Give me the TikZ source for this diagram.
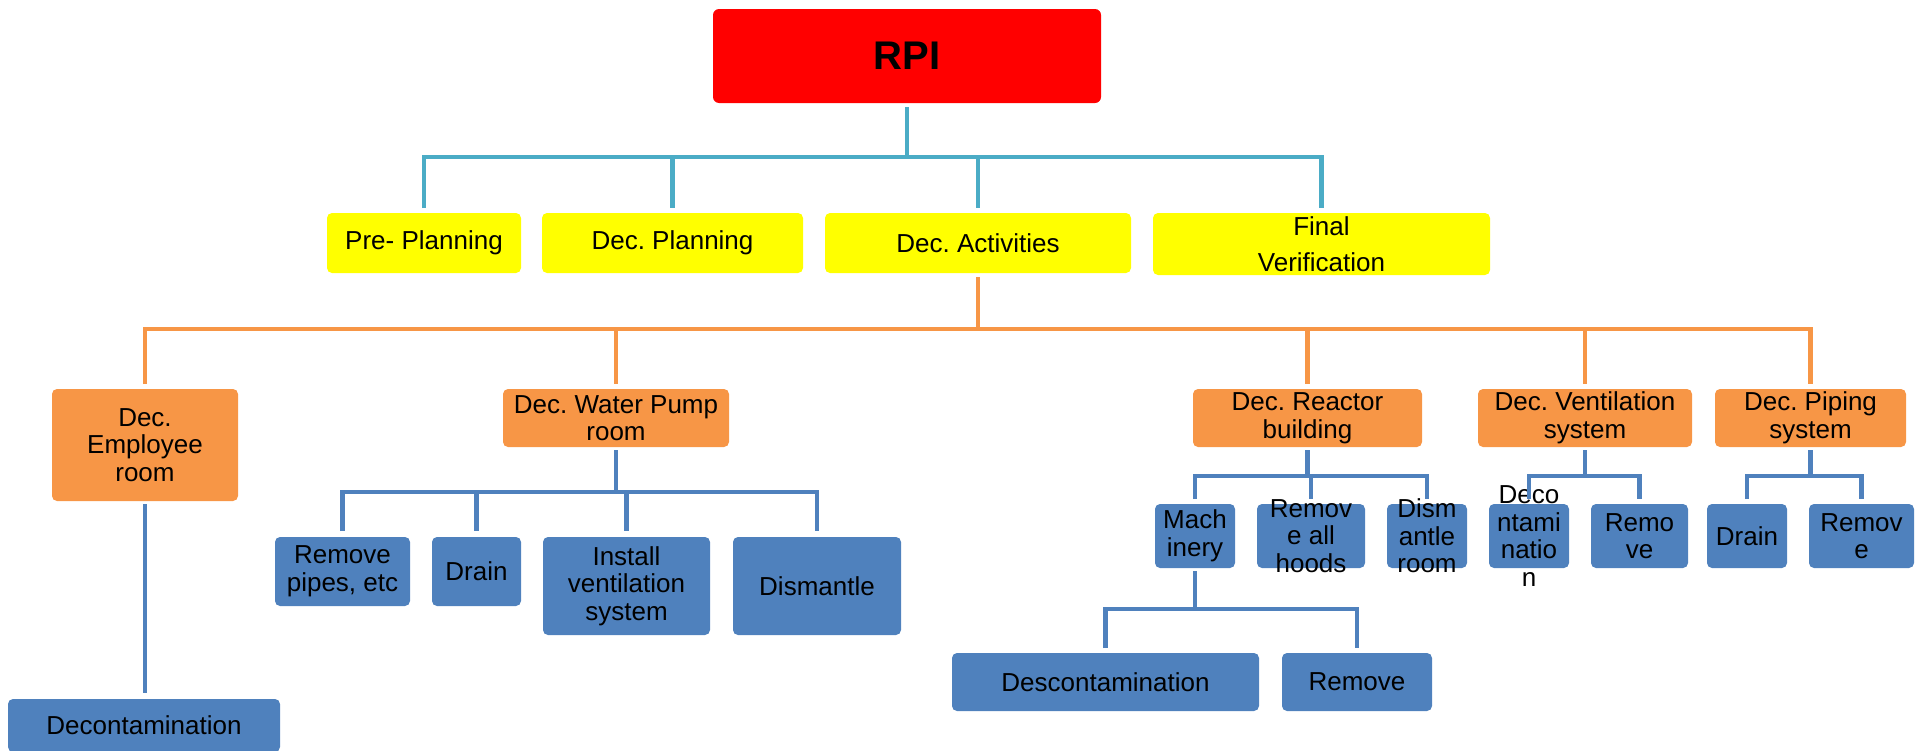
\documentclass[tikz,border=0pt]{standalone}
\usepackage{fontspec}
\setmainfont{Liberation Sans}
\usetikzlibrary{fit}
\definecolor{redc}{HTML}{FF0000}
\definecolor{yelc}{HTML}{FFFF00}
\definecolor{orgc}{HTML}{F79646}
\definecolor{bluc}{HTML}{4F81BD}
\definecolor{tealc}{HTML}{4BACC6}
\frenchspacing
\begin{document}
\begin{tikzpicture}[x=0.5pt,y=-0.5pt,
  bx/.style={rounded corners=2.5pt, inner sep=0pt, outer sep=0pt, fill=#1, draw=none},
  tx/.style={font=\fontsize{13}{13.8}\selectfont, align=center, inner sep=0pt, text=black},
  tl/.style={draw=tealc, line width=2.1pt},
  ol/.style={draw=orgc, line width=2.1pt},
  bl/.style={draw=bluc, line width=2.3pt}]
\useasboundingbox (0,0) rectangle (1923,750);
% boxes
\node[bx=redc, rounded corners=3pt, fit={(713,9) (1101,103)}] (rpi) {};
\node[bx=yelc, fit={(327,213) (521,273)}] (pre) {};
\node[bx=yelc, fit={(542,213) (803,273)}] (decp) {};
\node[bx=yelc, fit={(825,213) (1131,273)}] (deca) {};
\node[bx=yelc, fit={(1153,213) (1490,275)}] (fin) {};
\node[bx=orgc, fit={(52,389) (238,501)}] (emp) {};
\node[bx=orgc, fit={(503,389) (729,447)}] (wp) {};
\node[bx=orgc, fit={(1193,389) (1422,447)}] (rb) {};
\node[bx=orgc, fit={(1478,389) (1692,447)}] (vs) {};
\node[bx=orgc, fit={(1715,389) (1906,447)}] (ps) {};
\node[bx=bluc, fit={(275,537) (410,606)}] (rp) {};
\node[bx=bluc, fit={(432,537) (521,606)}] (dr1) {};
\node[bx=bluc, fit={(543,537) (710,635)}] (iv) {};
\node[bx=bluc, fit={(733,537) (901,635)}] (dm) {};
\node[bx=bluc, fit={(8,699) (280,752)}] (dec1) {};
\node[bx=bluc, fit={(1155,504) (1235,568)}] (mach) {};
\node[bx=bluc, fit={(1257,504) (1365,568)}] (rah) {};
\node[bx=bluc, fit={(1387,504) (1467,568)}] (drm) {};
\node[bx=bluc, fit={(1489,504) (1569,568)}] (dv) {};
\node[bx=bluc, fit={(1591,504) (1688,568)}] (rv) {};
\node[bx=bluc, fit={(1707,504) (1787,568)}] (dp) {};
\node[bx=bluc, fit={(1809,504) (1914,568)}] (rp2) {};
\node[bx=bluc, fit={(952,653) (1259,711)}] (desc) {};
\node[bx=bluc, fit={(1282,653) (1432,711)}] (rm) {};
% texts
\node[tx, font=\bfseries\fontsize{20}{24}\selectfont] (rpi-t) at (rpi) {RPI};
\node[tx] (pre-t) at (pre) {Pre- Planning};
\node[tx] (decp-t) at (decp) {Dec. Planning};
\node[tx] (deca-t) at (deca) {Dec. Activities};
\node[tx, font=\fontsize{13}{18}\selectfont] (fin-t) at (fin) {Final\\Verification};
\node[tx] (emp-t) at (emp) {Dec.\\Employee\\room};
\node[tx] (wp-t) at (wp) {Dec. Water Pump\\room};
\node[tx] (rb-t) at (rb) {Dec. Reactor\\building};
\node[tx] (vs-t) at (vs) {Dec. Ventilation\\system};
\node[tx] (ps-t) at (ps) {Dec. Piping\\system};
\node[tx] (rp-t) at (rp) {Remove\\pipes, etc};
\node[tx] (dr1-t) at (dr1) {Drain};
\node[tx] (iv-t) at (iv) {Install\\ventilation\\system};
\node[tx] (dm-t) at (dm) {Dismantle};
\node[tx] (dec1-t) at (dec1) {Decontamination};
\node[tx] (mach-t) at (mach) {Mach\\inery};
\node[tx] (rah-t) at (rah) {Remov\\e all\\hoods};
\node[tx] (drm-t) at (drm) {Dism\\antle\\room};
\node[tx] (dv-t) at (dv) {Deco\\ntami\\natio\\n};
\node[tx] (rv-t) at (rv) {Remo\\ve};
\node[tx] (dp-t) at (dp) {Drain};
\node[tx] (rp2-t) at (rp2) {Remov\\e};
\node[tx] (desc-t) at (desc) {Descontamination};
\node[tx] (rm-t) at (rm) {Remove};
% connectors level 1
\coordinate (b1) at (0,157);
\draw[tl, shorten <=2pt] (rpi.south) -- (rpi.south |- b1);
\draw[tl, shorten <=2.5pt, shorten >=2.5pt] (pre.north) -- (pre.north |- b1) -- (fin.north |- b1) -- (fin.north);
\foreach \c in {decp,deca} \draw[tl, shorten >=2.5pt] (\c.north |- b1) -- (\c.north);
% level 2
\coordinate (b2) at (0,329);
\draw[ol, shorten <=2pt] (deca.south) -- (deca.south |- b2);
\draw[ol, shorten <=2.5pt, shorten >=2.5pt] (emp.north) -- (emp.north |- b2) -- (ps.north |- b2) -- (ps.north);
\foreach \c in {wp,rb,vs} \draw[ol, shorten >=2.5pt] (\c.north |- b2) -- (\c.north);
% employee
\draw[bl, shorten <=1.5pt, shorten >=3pt] (emp.south) -- (emp.south |- dec1.north);
% water pump
\coordinate (b3) at (0,492);
\draw[bl, shorten <=1.5pt] (wp.south) -- (wp.south |- b3);
\draw[bl, shorten <=3pt, shorten >=3pt] (rp.north) -- (rp.north |- b3) -- (dm.north |- b3) -- (dm.north);
\foreach \c in {dr1,iv} \draw[bl, shorten >=3pt] (\c.north |- b3) -- (\c.north);
% reactor, ventilation, piping
\coordinate (b4) at (0,476);
\draw[bl, shorten <=1.5pt] (rb.south) -- (rb.south |- b4);
\draw[bl, shorten <=2.5pt, shorten >=2.5pt] (mach.north) -- (mach.north |- b4) -- (drm.north |- b4) -- (drm.north);
\draw[bl, shorten >=2.5pt] (rah.north |- b4) -- (rah.north);
\draw[bl, shorten <=1.5pt] (vs.south) -- (vs.south |- b4);
\draw[bl, shorten <=2.5pt, shorten >=2.5pt] (dv.north) -- (dv.north |- b4) -- (rv.north |- b4) -- (rv.north);
\draw[bl, shorten <=1.5pt] (ps.south) -- (ps.south |- b4);
\draw[bl, shorten <=2.5pt, shorten >=2.5pt] (dp.north) -- (dp.north |- b4) -- (rp2.north |- b4) -- (rp2.north);
% machinery
\coordinate (b5) at (0,609);
\draw[bl, shorten <=1.5pt] (mach.south) -- (mach.south |- b5);
\draw[bl, shorten <=2.5pt, shorten >=2.5pt] (desc.north) -- (desc.north |- b5) -- (rm.north |- b5) -- (rm.north);
\end{tikzpicture}
\end{document}
